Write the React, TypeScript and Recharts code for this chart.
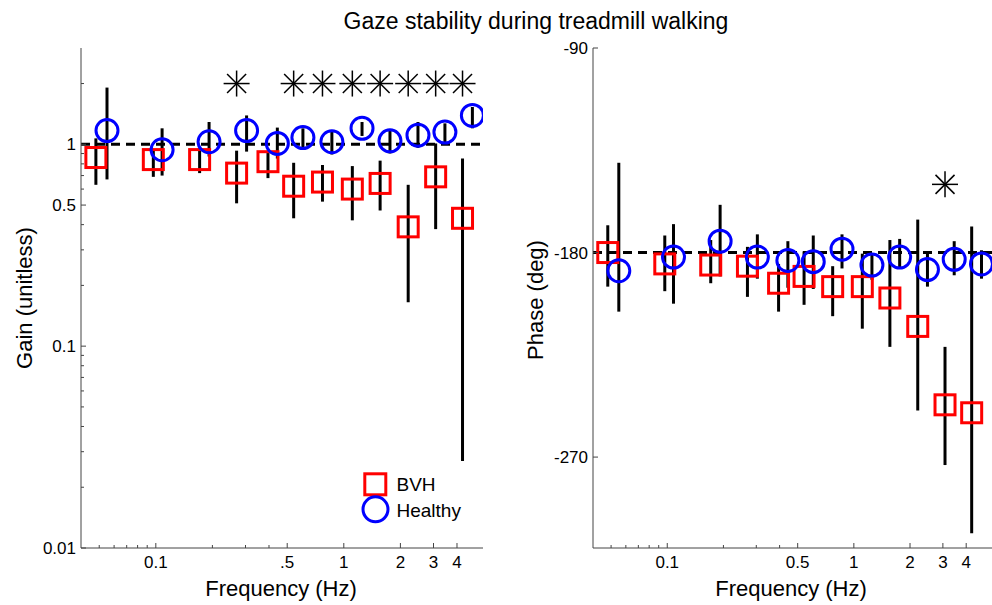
import React from 'react';
import { ScatterChart, Scatter, XAxis, YAxis, ErrorBar, ReferenceLine } from 'recharts';

// test frequencies (Hz), the two groups sit slightly apart on the axis
const bvhFreq = [0.048, 0.097, 0.171, 0.269, 0.395, 0.541, 0.77, 1.11, 1.56, 2.2, 3.08, 4.28];
const healthyFreq = [0.055, 0.108, 0.192, 0.304, 0.443, 0.606, 0.864, 1.25, 1.76, 2.48, 3.45, 4.83];

// gain (unitless), mean with lower / upper bar ends
const bvhGain = [0.86, 0.84, 0.84, 0.72, 0.82, 0.62, 0.65, 0.6, 0.64, 0.39, 0.69, 0.43];
const bvhGainLow = [0.63, 0.69, 0.72, 0.51, 0.68, 0.43, 0.52, 0.42, 0.47, 0.165, 0.38, 0.027];
const bvhGainHigh = [1.07, 0.93, 0.96, 0.93, 0.93, 0.81, 0.79, 0.78, 0.83, 0.63, 1.01, 0.85];
const healthyGain = [1.17, 0.94, 1.03, 1.17, 1.01, 1.08, 1.03, 1.2, 1.04, 1.11, 1.15, 1.39];
const healthyGainLow = [0.67, 0.7, 0.87, 0.92, 0.85, 0.96, 0.89, 1.1, 0.9, 0.96, 1.01, 1.2];
const healthyGainHigh = [1.91, 1.2, 1.29, 1.39, 1.21, 1.2, 1.17, 1.29, 1.17, 1.29, 1.27, 1.53];

// phase (deg)
const bvhPhase = [-180, -185, -185.5, -186, -193.5, -190.5, -195, -195, -200, -212.5, -247, -250.5];
const bvhPhaseLow = [-195, -197, -193.5, -199.5, -206, -203, -208, -213.5, -221.5, -249.5, -273.5, -303.5];
const bvhPhaseHigh = [-168, -172.5, -174.5, -177.5, -185, -179.5, -186, -180.5, -174.5, -165.5, -221.5, -168.5];
const healthyPhase = [-188, -182, -175, -182, -183.5, -184, -178.5, -185.5, -182, -187.5, -183, -185];
const healthyPhaseLow = [-206, -202.5, -190.5, -191.5, -195.5, -196, -187, -192, -187, -195, -190, -191.5];
const healthyPhaseHigh = [-140.5, -167.5, -159, -172, -175, -172.5, -172, -180.5, -174, -179.5, -175, -179];

// significant differences (index into bvhFreq) and where the asterisks sit
const gainSigIdx = [3, 5, 6, 7, 8, 9, 10, 11];
const phaseSigIdx = [10];
const gainStarLevel = 2;
const phaseStarLevel = -150;

// axis ticks
const freqTicks = [0.05, 0.06, 0.07, 0.08, 0.09, 0.1, 0.2, 0.3, 0.4, 0.5, 1, 2, 3, 4];
const gainFreqLabels: Record<string, string> = { '0.1': '0.1', '0.5': '.5', '1': '1', '2': '2', '3': '3', '4': '4' };
const phaseFreqLabels: Record<string, string> = { '0.1': '0.1', '0.5': '0.5', '1': '1', '2': '2', '3': '3', '4': '4' };
const gainTicks = [
  0.01, 0.02, 0.03, 0.04, 0.05, 0.06, 0.07, 0.08, 0.09,
  0.1, 0.2, 0.3, 0.4, 0.5, 0.6, 0.7, 0.8, 0.9, 1, 2,
];
const gainTickLabels: Record<string, string> = { '0.01': '0.01', '0.1': '0.1', '0.5': '0.5', '1': '1' };
const phaseTicks = [-270, -180, -90];
const phaseTickLabels: Record<string, string> = { '-270': '-270', '-180': '-180', '-90': '-90' };

const FONT = '"Liberation Sans", Arial, Helvetica, sans-serif';
const AXIS = '#444';

const toRows = (f: number[], v: number[], lo: number[], hi: number[]) =>
  f.map((x, i) => ({ f: x, v: v[i], err: [v[i] - lo[i], hi[i] - v[i]] }));

const bvhGainRows = toRows(bvhFreq, bvhGain, bvhGainLow, bvhGainHigh);
const healthyGainRows = toRows(healthyFreq, healthyGain, healthyGainLow, healthyGainHigh);
const bvhPhaseRows = toRows(bvhFreq, bvhPhase, bvhPhaseLow, bvhPhaseHigh);
const healthyPhaseRows = toRows(healthyFreq, healthyPhase, healthyPhaseLow, healthyPhaseHigh);
const gainStars = gainSigIdx.map(i => ({ f: bvhFreq[i], v: gainStarLevel }));
const phaseStars = phaseSigIdx.map(i => ({ f: bvhFreq[i], v: phaseStarLevel }));

const Square = (p: any) => (
  <rect x={p.cx - 10} y={p.cy - 10} width={20} height={20} fill="none" stroke="#ff0000" strokeWidth={3} />
);
const Ring = (p: any) => <circle cx={p.cx} cy={p.cy} r={11} fill="none" stroke="#0000ff" strokeWidth={3} />;
const Nothing = () => <g />;
const Star = (p: any) => {
  const { cx, cy } = p;
  const r = 13;
  const d = 9.5;
  return (
    <g stroke="#000" strokeWidth={1.5}>
      <line x1={cx - r} x2={cx + r} y1={cy} y2={cy} />
      <line x1={cx} x2={cx} y1={cy - r} y2={cy + r} />
      <line x1={cx - d} x2={cx + d} y1={cy - d} y2={cy + d} />
      <line x1={cx - d} x2={cx + d} y1={cy + d} y2={cy - d} />
    </g>
  );
};

// ticks point inward like the original, minor ticks have no label
const makeXTick = (labels: Record<string, string>) => (props: any) => {
  const { x, y, payload } = props;
  const label = labels[String(payload.value)];
  return (
    <g>
      <line x1={x} x2={x} y1={y} y2={y - (label ? 5 : 3)} stroke={AXIS} />
      {label && (
        <text x={x} y={y + 20} textAnchor="middle" fontSize={17} fontFamily={FONT} fill="#000">
          {label}
        </text>
      )}
    </g>
  );
};

const makeYTick = (labels: Record<string, string>) => (props: any) => {
  const { x, y, payload } = props;
  const label = labels[String(payload.value)];
  return (
    <g>
      <line x1={x} x2={x + (label ? 5 : 3)} y1={y} y2={y} stroke={AXIS} />
      {label && (
        <text x={x - 5} y={y + 6} textAnchor="end" fontSize={17} fontFamily={FONT} fill="#000">
          {label}
        </text>
      )}
    </g>
  );
};

const AxisTitle = ({ tx, ty, text, rotate }: { tx: number; ty: number; text: string; rotate?: boolean }) => (
  <text
    x={tx}
    y={ty}
    textAnchor="middle"
    fontSize={22}
    fontFamily={FONT}
    fill="#000"
    transform={rotate ? `rotate(-90 ${tx} ${ty})` : undefined}
  >
    {text}
  </text>
);

const GainPanel = () => (
  <ScatterChart width={496} height={605} margin={{ top: 48, right: 13, bottom: 0, left: 0 }}>
    <XAxis
      dataKey="f"
      type="number"
      scale="log"
      domain={[0.04, 5.5]}
      allowDataOverflow
      ticks={freqTicks}
      interval={0}
      tick={makeXTick(gainFreqLabels)}
      tickLine={false}
      tickSize={0}
      tickMargin={0}
      axisLine={{ stroke: AXIS }}
      height={57}
      label={<AxisTitle tx={281} ty={596} text="Frequency (Hz)" />}
    />
    <YAxis
      dataKey="v"
      type="number"
      scale="log"
      domain={[0.01, 3]}
      allowDataOverflow
      ticks={gainTicks}
      interval={0}
      tick={makeYTick(gainTickLabels)}
      tickLine={false}
      tickSize={0}
      tickMargin={0}
      axisLine={{ stroke: AXIS }}
      width={81}
      label={<AxisTitle tx={32} ty={298} text="Gain (unitless)" rotate />}
    />
    <ReferenceLine y={1} stroke="#000" strokeWidth={3} strokeDasharray="9 6" />
    <Scatter data={bvhGainRows} shape={Square} isAnimationActive={false} />
    <Scatter data={healthyGainRows} shape={Ring} isAnimationActive={false} />
    <Scatter data={bvhGainRows} shape={Nothing} isAnimationActive={false}>
      <ErrorBar dataKey="err" direction="y" width={0} stroke="#000" strokeWidth={3} />
    </Scatter>
    <Scatter data={healthyGainRows} shape={Nothing} isAnimationActive={false}>
      <ErrorBar dataKey="err" direction="y" width={0} stroke="#000" strokeWidth={3} />
    </Scatter>
    <Scatter data={gainStars} shape={Star} isAnimationActive={false} />
  </ScatterChart>
);

const PhasePanel = () => (
  <ScatterChart width={496} height={605} margin={{ top: 48, right: 0, bottom: 0, left: 0 }}>
    <XAxis
      dataKey="f"
      type="number"
      scale="log"
      domain={[0.04, 5.5]}
      allowDataOverflow
      ticks={freqTicks}
      interval={0}
      tick={makeXTick(phaseFreqLabels)}
      tickLine={false}
      tickSize={0}
      tickMargin={0}
      axisLine={{ stroke: AXIS }}
      height={57}
      label={<AxisTitle tx={295} ty={596} text="Frequency (Hz)" />}
    />
    <YAxis
      dataKey="v"
      type="number"
      domain={[-310, -90]}
      allowDataOverflow
      ticks={phaseTicks}
      interval={0}
      tick={makeYTick(phaseTickLabels)}
      tickLine={false}
      tickSize={0}
      tickMargin={0}
      axisLine={{ stroke: AXIS }}
      width={97}
      label={<AxisTitle tx={47} ty={300} text="Phase (deg)" rotate />}
    />
    <ReferenceLine y={-180} stroke="#000" strokeWidth={3} strokeDasharray="9 6" />
    <Scatter data={bvhPhaseRows} shape={Square} isAnimationActive={false} />
    <Scatter data={healthyPhaseRows} shape={Ring} isAnimationActive={false} />
    <Scatter data={bvhPhaseRows} shape={Nothing} isAnimationActive={false}>
      <ErrorBar dataKey="err" direction="y" width={0} stroke="#000" strokeWidth={3} />
    </Scatter>
    <Scatter data={healthyPhaseRows} shape={Nothing} isAnimationActive={false}>
      <ErrorBar dataKey="err" direction="y" width={0} stroke="#000" strokeWidth={3} />
    </Scatter>
    <Scatter data={phaseStars} shape={Star} isAnimationActive={false} />
  </ScatterChart>
);

export default function App() {
  return (
    <div style={{ position: 'absolute', left: 0, top: 0, width: 992, height: 605, background: '#fff', overflow: 'hidden' }}>
      <div style={{ position: 'absolute', left: 0, top: 0 }}>
        <GainPanel />
      </div>
      <div style={{ position: 'absolute', left: 496, top: 0 }}>
        <PhasePanel />
      </div>
      {/* title and legend on top */}
      <svg width={992} height={605} style={{ position: 'absolute', left: 0, top: 0, pointerEvents: 'none' }}>
        <text x={536} y={29} textAnchor="middle" fontSize={23} fontFamily={FONT} fill="#000">
          Gaze stability during treadmill walking
        </text>
        <rect x={364.8} y={473.8} width={21} height={21} fill="none" stroke="#ff0000" strokeWidth={3} />
        <circle cx={375.5} cy={509.3} r={12.5} fill="none" stroke="#0000ff" strokeWidth={3} />
        <text x={396.5} y={490.7} fontSize={19} fontFamily={FONT} fill="#000">BVH</text>
        <text x={396.5} y={516.7} fontSize={19} fontFamily={FONT} fill="#000">Healthy</text>
      </svg>
    </div>
  );
}
